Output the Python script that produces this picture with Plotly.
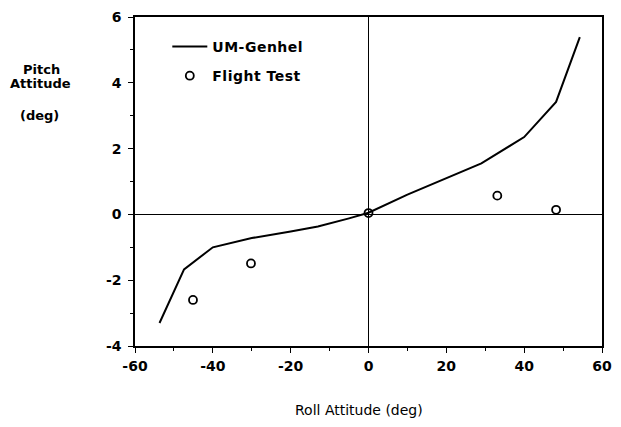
import plotly.graph_objects as go

# UM-Genhel model prediction: pitch attitude vs roll attitude (deg)
roll_model = [-53.7, -47.4, -40.0, -30.0, -20.0, -13.0, -5.0, 0.0, 10.0, 20.0, 29.0, 40.0, 48.2, 54.3]
pitch_model = [-3.30, -1.67, -1.00, -0.72, -0.52, -0.37, -0.12, 0.05, 0.60, 1.10, 1.55, 2.35, 3.42, 5.39]

# Flight test measurements
roll_test = [-45.1, -30.2, 0.0, 33.1, 48.2]
pitch_test = [-2.60, -1.49, 0.04, 0.57, 0.14]

x_ticks = [-60, -40, -20, 0, 20, 40, 60]
x_tick_labels = ["-60", "-40", "-20", "0", "20", "40", "60"]
y_ticks = [-4, -2, 0, 2, 4, 6]
y_tick_labels = ["-4", "-2", "0", "2", "4", "6"]

FONT = "DejaVu Sans"
L, R, T, B = 135, 9, 14, 81
W, H = 621, 427
PW, PH = W - L - R, H - T - B


def px(xp):
    return (xp - L) / PW


def py(yp):
    return (H - B - yp) / PH


def spaced(label):
    return f'<span style="letter-spacing:0.5px">{label}</span>'


fig = go.Figure()
fig.add_trace(go.Scatter(
    x=roll_model, y=pitch_model, mode="lines", name=spaced("UM-Genhel"),
    line=dict(color="black", width=2), legendgroup="a",
))
fig.add_trace(go.Scatter(
    x=roll_test, y=pitch_test, mode="markers", name=spaced("Flight Test"),
    marker=dict(symbol="circle-open", size=8, color="black", line=dict(width=1.8)),
    legendgroup="b",
))

axis_common = dict(
    showline=True, linecolor="black", linewidth=1.5, mirror=True,
    showgrid=False, zeroline=True, zerolinecolor="black", zerolinewidth=1,
    ticks="outside", ticklen=5, tickwidth=1.2, tickcolor="black",
    tickfont=dict(family=FONT, size=14, color="black", weight="bold"),
)

fig.update_xaxes(
    range=[-60, 60], tickvals=x_ticks, ticktext=x_tick_labels,
    ticklabelstandoff=1,
    minor=dict(ticks="outside", ticklen=3, tickcolor="black", dtick=10),
    **axis_common,
)
fig.update_yaxes(
    range=[-4, 6], tickvals=y_ticks, ticktext=y_tick_labels,
    ticklabelstandoff=4,
    minor=dict(ticks="outside", ticklen=3, tickcolor="black", dtick=1),
    **axis_common,
)

fig.add_annotation(text="Roll Attitude (deg)", xref="paper", yref="paper",
                   x=px(364), y=py(411), xanchor="center", yanchor="middle",
                   showarrow=False,
                   font=dict(family=FONT, size=14, color="black"))
for txt, xc, yc in [("Pitch", 40, 67), ("Attitude", 38.5, 81), ("(deg)", 37.5, 113)]:
    fig.add_annotation(text=txt, xref="paper", yref="paper", x=px(xc), y=py(yc),
                       xanchor="center", yanchor="middle", showarrow=False,
                       font=dict(family=FONT, size=13, color="black", weight="bold"))

fig.update_layout(
    width=W, height=H,
    margin=dict(l=L, r=R, t=T, b=B),
    paper_bgcolor="white", plot_bgcolor="white",
    showlegend=True,
    legend=dict(x=px(168), y=py(28), xanchor="left", yanchor="top",
                bgcolor="rgba(0,0,0,0)", tracegroupgap=8, itemwidth=35,
                font=dict(family=FONT, size=14, color="black", weight="bold")),
)

fig.write_html("out.html")
